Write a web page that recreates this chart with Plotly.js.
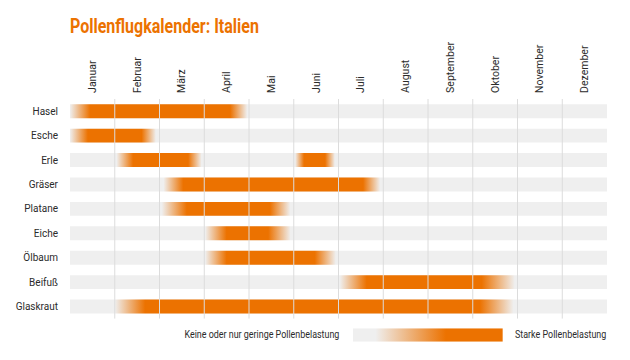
<!DOCTYPE html>
<html>
<head>
<meta charset="utf-8">
<script src="https://cdn.plot.ly/plotly-3.0.1.min.js"></script>
<style>
html,body{margin:0;padding:0;background:#fff;}
#chart{width:630px;height:360px;}
#chart .gtitle{transform-box:fill-box;transform-origin:0 50%;transform:scaleX(0.8);}
#chart .annotation text{transform-box:fill-box;transform:scaleX(0.85);}
#chart .annotation[data-index="0"] text{transform-origin:100% 50%;}
#chart .annotation[data-index="1"] text{transform-origin:0 50%;}
</style>
</head>
<body>
<div id="chart"></div>
<script>
// Months (tick labels)
const months = ["Januar","Februar","März","April","Mai","Juni","Juli","August","September","Oktober","November","Dezember"];
// Plants (rows, top to bottom)
const plants = ["Hasel","Esche","Erle","Gräser","Platane","Eiche","Ölbaum","Beifuß","Glaskraut"];
// Pollen periods in months from 1 January
const periodPlant = ["Hasel","Esche","Erle","Erle","Gräser","Platane","Eiche","Ölbaum","Beifuß","Glaskraut"];
const periodStart = [0.00, 0.00, 1.04, 5.03, 2.09, 2.05, 3.02, 3.02, 6.03, 1.00];
const periodPeakStart = [0.45, 0.40, 1.41, 5.23, 2.53, 2.61, 3.50, 3.50, 6.63, 1.68];
const periodPeakEnd = [3.58, 1.60, 2.64, 5.70, 6.55, 4.47, 4.43, 5.47, 9.20, 9.16];
const periodEnd = [3.96, 1.92, 2.94, 5.92, 6.93, 4.92, 4.93, 5.94, 9.94, 9.91];
// Legend texts
const legendLow = "Keine oder nur geringe Pollenbelastung";
const legendHigh = "Starke Pollenbelastung";
const titleText = "Pollenflugkalender: Italien";

const ORANGE = "rgb(236,114,0)";
const ORANGE0 = "rgba(236,114,0,0)";
const BAND = "#efefef";
const FONT = "Roboto, sans-serif";
const TXT = "#2b2b2b";
const H = 0.285;

const traces = [];
// background bands
traces.push({
  type: "bar", orientation: "h",
  y: plants.map((p, i) => i), x: plants.map(() => months.length), base: 0,
  width: 2 * H, marker: {color: BAND, line: {width: 0}},
  hoverinfo: "skip", showlegend: false, xaxis: "x", yaxis: "y"
});
// gradient bars
for (let k = 0; k < periodPlant.length; k++) {
  const row = plants.indexOf(periodPlant[k]);
  const s = periodStart[k], a = periodPeakStart[k], b = periodPeakEnd[k], e = periodEnd[k];
  const len = e - s;
  traces.push({
    type: "scatter", mode: "lines",
    x: [s, e, e, s, s],
    y: [row - H, row - H, row + H, row + H, row - H],
    fill: "toself",
    line: {width: 0, color: ORANGE0},
    fillgradient: {
      type: "horizontal",
      colorscale: [[0, ORANGE0], [(a - s) / len, ORANGE], [(b - s) / len, ORANGE], [1, ORANGE0]]
    },
    hoverinfo: "skip", showlegend: false, xaxis: "x", yaxis: "y"
  });
}
// legend gradient box
traces.push({
  type: "scatter", mode: "lines",
  x: [0, 1, 1, 0, 0], y: [0, 0, 1, 1, 0],
  fill: "toself", line: {width: 0, color: ORANGE0},
  fillgradient: {type: "horizontal",
    colorscale: [[0, BAND], [0.15, BAND], [0.62, ORANGE], [1, ORANGE]]},
  hoverinfo: "skip", showlegend: false, xaxis: "x2", yaxis: "y2"
});

const shapes = [];
for (let m = 1; m < months.length; m++) {
  shapes.push({type: "line", xref: "x", yref: "y", x0: m, x1: m, y0: -0.58, y1: plants.length - 0.5,
    line: {color: "#dcdcdc", width: 1}, layer: "above"});
}

const layout = {
  width: 630, height: 360,
  margin: {l: 70, r: 23, t: 98.5, b: 10},
  paper_bgcolor: "#fff", plot_bgcolor: "rgba(0,0,0,0)",
  showlegend: false,
  title: {text: titleText, x: 0, xanchor: "left", xref: "paper", y: 0.928, yanchor: "middle",
    font: {family: FONT, size: 20, color: ORANGE, weight: "bold"}},
  xaxis: {
    range: [0, months.length], side: "top", domain: [0, 1],
    tickvals: months.map((m, i) => i + 0.5), ticktext: months, tickangle: -90,
    showgrid: false, zeroline: false, showline: false, ticks: "outside", ticklen: 3, tickcolor: "rgba(0,0,0,0)",
    tickfont: {family: FONT, size: 10.5, color: TXT}, fixedrange: true
  },
  yaxis: {
    range: [plants.length - 0.5, -0.5], domain: [0.1245, 1],
    tickvals: plants.map((p, i) => i), ticktext: plants,
    showgrid: false, zeroline: false, showline: false, ticks: "outside", ticklen: 9, tickcolor: "rgba(0,0,0,0)",
    tickfont: {family: FONT, size: 10, color: TXT}, fixedrange: true
  },
  xaxis2: {range: [0, 1], domain: [0.527, 0.806], visible: false, anchor: "y2", fixedrange: true},
  yaxis2: {range: [0, 1], domain: [0.033, 0.0863], visible: false, anchor: "x2", fixedrange: true},
  shapes: shapes,
  annotations: [
    {text: legendLow, xref: "paper", yref: "paper", x: 0.506, y: 0.06, xanchor: "right", yanchor: "middle",
      showarrow: false, font: {family: FONT, size: 10.5, color: TXT}},
    {text: legendHigh, xref: "paper", yref: "paper", x: 0.825, y: 0.06, xanchor: "left", yanchor: "middle",
      showarrow: false, font: {family: FONT, size: 10.5, color: TXT}}
  ]
};

Plotly.newPlot("chart", traces, layout, {displayModeBar: false, staticPlot: true});
</script>
</body>
</html>
